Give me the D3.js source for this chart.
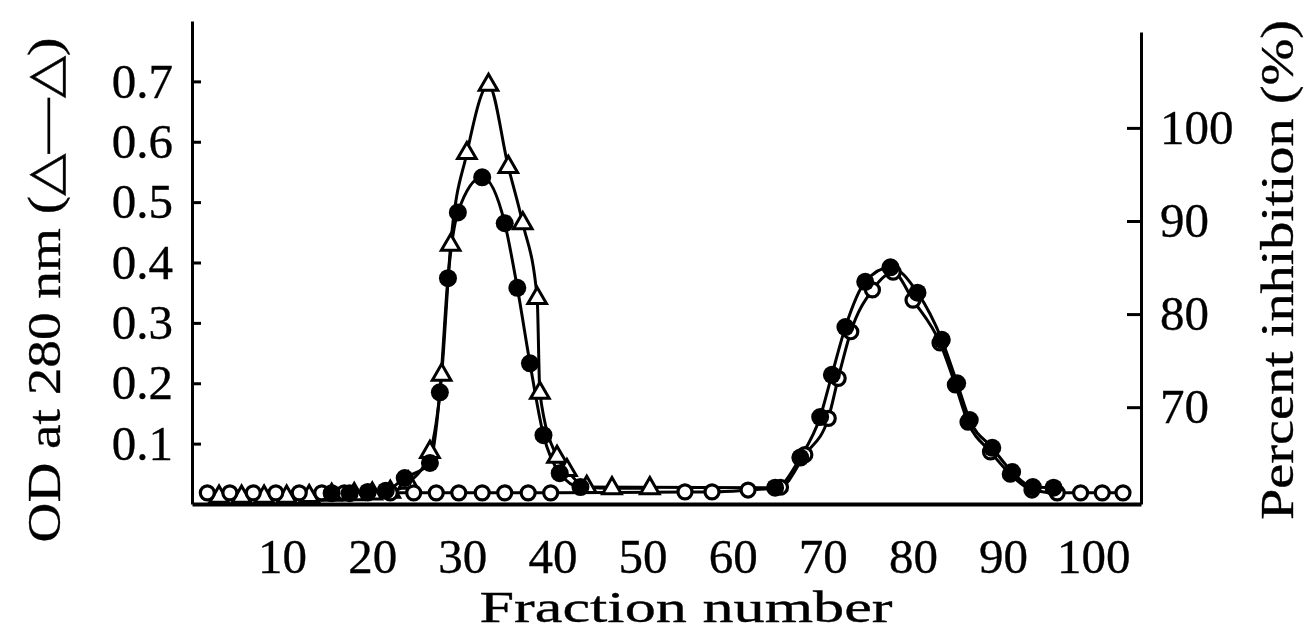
<!DOCTYPE html>
<html>
<head>
<meta charset="utf-8">
<script src="https://cdn.jsdelivr.net/npm/d3@7"></script>
<style>
  body { margin: 0; background: #fff; }
  svg text { font-family: "Liberation Serif", "DejaVu Serif", serif; fill: #000; stroke: #000; stroke-width: 0.35; }
</style>
</head>
<body>
<svg id="chart" width="1304" height="633"></svg>
<script>
'use strict';

// Triangles: OD at 280 nm (left axis)
const triFraction = [3, 5.5, 8, 10.5, 13, 15.5, 18, 20, 22, 24, 26.4, 27.7, 28.7, 30.5, 32.9,
  35.1, 36.7, 38.3, 38.6, 40.5, 41.6, 43.8, 46.6, 50.8];
const triOD = [0.012, 0.012, 0.012, 0.012, 0.013, 0.015, 0.016, 0.017, 0.02, 0.035, 0.086, 0.214, 0.429, 0.581, 0.694,
  0.558, 0.465, 0.341, 0.184, 0.078, 0.056, 0.028, 0.026, 0.026];

// Filled circles (left axis)
const filledFraction = [15.5, 17.5, 19.5, 21.5, 23.6, 26.4, 27.5, 28.4, 29.5, 32.2, 34.7, 36.1, 37.5, 39.0, 40.8, 43.1,
  64.7, 67.5, 69.7, 71.0, 72.5, 74.7, 77.5, 80.5, 83.2, 84.9, 86.3, 88.8, 91.0, 93.3, 95.6];
const filledOD = [0.018, 0.018, 0.02, 0.022, 0.043, 0.068, 0.185, 0.374, 0.483, 0.541, 0.465, 0.358, 0.233, 0.114, 0.051, 0.028,
  0.027, 0.077, 0.144, 0.214, 0.293, 0.368, 0.392, 0.35, 0.272, 0.2, 0.139, 0.093, 0.053, 0.028, 0.027];

// Open circles: percent inhibition (right axis)
const openFraction = [1.7, 4.2, 6.8, 9.3, 11.9, 14.4, 16.9, 19.5, 22.0, 24.6, 27.1, 29.6, 32.2, 34.7, 37.3, 39.8,
  54.7, 57.7, 61.7, 65.3, 68.0, 70.6, 71.7, 73.1, 75.5, 77.8, 80.0, 83.0, 84.7, 86.1, 88.6, 90.8, 93.2,
  96.0, 98.6, 101.0, 103.3];
const openInhibition = [60.8, 60.8, 60.8, 60.8, 60.8, 60.8, 60.8, 60.8, 60.8, 60.8, 60.8, 60.8, 60.8, 60.8, 60.8, 60.8,
  60.9, 60.9, 61.1, 61.4, 64.9, 68.8, 73.1, 78.1, 82.6, 84.5, 81.5, 76.9, 72.4, 68.4, 65.2, 62.8, 61.1,
  60.8, 60.8, 60.8, 60.8];

const xTicks = [10, 20, 30, 40, 50, 60, 70, 80, 90, 100];
const odTicks = [0.1, 0.2, 0.3, 0.4, 0.5, 0.6, 0.7];
const inhibitionTicks = [70, 80, 90, 100];

const left = 192, right = 1141, bottom = 504;

let svg = d3.select('#chart');

let x = d3.scaleLinear().domain([0, 105.3]).range([left, right]);
let yOD = d3.scaleLinear().domain([0, 0.8]).range([bottom, 21]);
let yInh = d3.scaleLinear().domain([59.6, 110.3]).range([bottom, 32]);

// axes
let axisL = svg.append('g')
    .attr('transform', 'translate(' + left + ',0)')
    .call(d3.axisLeft(yOD).tickValues(odTicks).tickSizeInner(-9).tickSizeOuter(0)
      .tickPadding(19).tickFormat(d3.format('.1f')));

let axisR = svg.append('g')
    .attr('transform', 'translate(' + right + ',0)')
    .call(d3.axisRight(yInh).tickValues(inhibitionTicks).tickSizeInner(-14).tickSizeOuter(0)
      .tickPadding(19));

let axisB = svg.append('g')
    .attr('transform', 'translate(0,' + bottom + ')')
    .call(d3.axisBottom(x).tickValues(xTicks).tickSize(0).tickPadding(34));

[axisL, axisR, axisB].forEach(function(a) {
  a.select('.domain').attr('stroke', '#000').attr('stroke-width', 3);
  a.selectAll('.tick line').attr('stroke', '#000').attr('stroke-width', 3);
  a.selectAll('.tick text').attr('font-size', 49)
    .style('font-family', '"Liberation Serif", serif');
});
axisB.select('.domain').attr('stroke-width', 4);

// titles
svg.append('text')
    .attr('x', 686).attr('y', 622)
    .attr('text-anchor', 'middle')
    .attr('font-size', 44)
    .attr('textLength', 413)
    .attr('lengthAdjust', 'spacingAndGlyphs')
    .text('Fraction number');

svg.append('text')
    .attr('transform', 'translate(60,290) rotate(-90)')
    .attr('text-anchor', 'middle')
    .attr('font-size', 47)
    .attr('textLength', 505)
    .attr('lengthAdjust', 'spacingAndGlyphs')
    .text('OD at 280 nm (\u25B3\u2014\u25B3)');

svg.append('text')
    .attr('transform', 'translate(1293,270) rotate(-90)')
    .attr('text-anchor', 'middle')
    .attr('font-size', 47)
    .attr('textLength', 500)
    .attr('lengthAdjust', 'spacingAndGlyphs')
    .text('Percent inhibition (%)');

// series
let curve = d3.curveMonotoneX;

function pairs(xs, ys) {
  return xs.map(function(v, i) { return [v, ys[i]]; });
}

let triData = pairs(triFraction, triOD);
let filledData = pairs(filledFraction, filledOD);
let openData = pairs(openFraction, openInhibition);

let lineOD = d3.line().curve(curve)
    .x(function(d) { return x(d[0]); })
    .y(function(d) { return yOD(d[1]); });
let lineInh = d3.line().curve(curve)
    .x(function(d) { return x(d[0]); })
    .y(function(d) { return yInh(d[1]); });

let g = svg.append('g');

g.append('path').datum(triData).attr('d', lineOD)
    .attr('fill', 'none').attr('stroke', '#000').attr('stroke-width', 3);
g.append('path').datum(filledData).attr('d', lineOD)
    .attr('fill', 'none').attr('stroke', '#000').attr('stroke-width', 3);
g.append('path').datum(openData).attr('d', lineInh)
    .attr('fill', 'none').attr('stroke', '#000').attr('stroke-width', 3);

let tri = d3.symbol().type(d3.symbolTriangle).size(150);

g.selectAll('.tri')
  .data(triData)
  .enter().append('path')
    .attr('class', 'tri')
    .attr('d', tri)
    .attr('transform', function(d) { return 'translate(' + x(d[0]) + ',' + yOD(d[1]) + ')'; })
    .attr('fill', '#fff').attr('stroke', '#000').attr('stroke-width', 3);

g.selectAll('.open')
  .data(openData)
  .enter().append('circle')
    .attr('class', 'open')
    .attr('cx', function(d) { return x(d[0]); })
    .attr('cy', function(d) { return yInh(d[1]); })
    .attr('r', 7)
    .attr('fill', '#fff').attr('stroke', '#000').attr('stroke-width', 3.2);

g.selectAll('.filled')
  .data(filledData)
  .enter().append('circle')
    .attr('class', 'filled')
    .attr('cx', function(d) { return x(d[0]); })
    .attr('cy', function(d) { return yOD(d[1]); })
    .attr('r', 9)
    .attr('fill', '#000');
</script>
</body>
</html>
